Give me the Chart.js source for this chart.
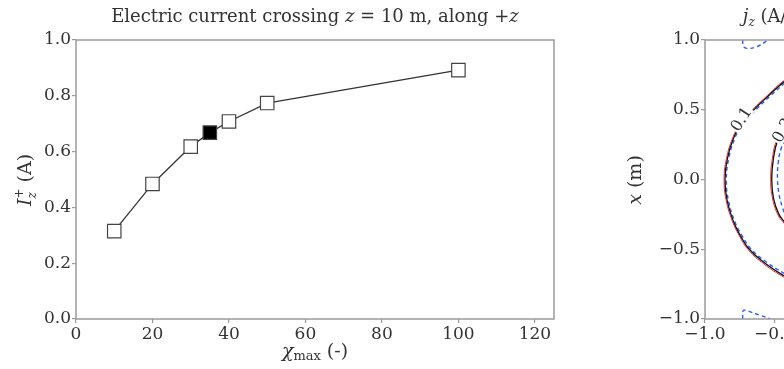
<!DOCTYPE html>
<html lang="en">
<head>
<meta charset="UTF-8">
<title>Electric current crossing z = 10 m</title>
<script src="https://cdn.jsdelivr.net/npm/chart.js"></script>
<style>
  html, body { margin: 0; padding: 0; background: #fff; overflow: hidden; width: 784px; height: 369px; }
  canvas { position: absolute; top: 0; }
  #currentChart { left: 0; }
  #jzChart { left: 600px; }
</style>
</head>
<body>
<canvas id="currentChart" width="600" height="369"></canvas>
<canvas id="jzChart" width="430" height="369"></canvas>
<script>
// current through the plane z = 10 m vs chi_max
const chiMax = [10, 20, 30, 35, 40, 50, 100];
const currentIz = [0.315, 0.484, 0.618, 0.668, 0.708, 0.774, 0.892];
const highlightChi = 35;
const chiTicks = [0, 20, 40, 60, 80, 100, 120];
const currentTicks = [0, 0.2, 0.4, 0.6, 0.8, 1.0];

// j_z contour lines in the (y, x) plane, as [y, x] pairs
const outerLevel = [[-0.30, 0.79], [-0.434, 0.70], [-0.545, 0.60], [-0.65, 0.50], [-0.74, 0.40], [-0.795, 0.30],
  [-0.84, 0.15], [-0.857, 0.0], [-0.842, -0.15], [-0.797, -0.30], [-0.748, -0.40], [-0.683, -0.50],
  [-0.57, -0.60], [-0.434, -0.69], [-0.30, -0.76]];
const outerLevelRef = [[-0.30, 0.80], [-0.437, 0.707], [-0.55, 0.605], [-0.656, 0.503], [-0.746, 0.402], [-0.801, 0.30],
  [-0.846, 0.15], [-0.863, 0.0], [-0.848, -0.15], [-0.803, -0.30], [-0.754, -0.403], [-0.689, -0.505],
  [-0.576, -0.607], [-0.437, -0.698], [-0.30, -0.77]];
const outerLevelAlt = [[-0.30, 0.775], [-0.43, 0.688], [-0.53, 0.60], [-0.635, 0.50], [-0.727, 0.40], [-0.784, 0.30],
  [-0.83, 0.15], [-0.847, 0.0], [-0.832, -0.15], [-0.787, -0.30], [-0.736, -0.40], [-0.668, -0.50],
  [-0.555, -0.595], [-0.43, -0.675], [-0.30, -0.745]];
const innerLevel = [[-0.38, 0.43], [-0.434, 0.36], [-0.48, 0.28], [-0.51, 0.15], [-0.522, 0.0], [-0.508, -0.14],
  [-0.47, -0.25], [-0.434, -0.30], [-0.38, -0.36]];
const innerLevelRef = [[-0.385, 0.435], [-0.44, 0.365], [-0.487, 0.283], [-0.517, 0.15], [-0.529, 0.0], [-0.515, -0.14],
  [-0.477, -0.254], [-0.44, -0.305], [-0.385, -0.365]];
const innerLevelAlt = [[-0.38, 0.37], [-0.42, 0.30], [-0.455, 0.22], [-0.475, 0.12], [-0.48, 0.0], [-0.47, -0.10],
  [-0.445, -0.20], [-0.42, -0.26], [-0.38, -0.31]];
const cornerTop = [[-0.73, 1.0], [-0.725, 0.955], [-0.70, 0.94], [-0.63, 0.952], [-0.546, 1.0]];
const cornerBottom = [[-0.73, -1.0], [-0.725, -0.94], [-0.69, -0.945], [-0.60, -0.975], [-0.53, -1.0]];
const jzTicks = [-1.0, -0.5, 0.0, 0.5, 1.0];
const contourLabels = [['0.1', -0.735, 0.43, -57], ['0.3', -0.44, 0.35, -62]];

const SERIF = '"DejaVu Serif", "Liberation Serif", serif';
const TEXT = '#333';
const SPINE = '#9a9a9a';

// draw a run of text pieces with mixed fonts, centred on (x, y)
// piece = [text, font, dy, noAdvance]
function drawRich(ctx, pieces, x, y, angle) {
  ctx.save();
  ctx.translate(x, y);
  if (angle) ctx.rotate(angle);
  let w = 0;
  pieces.forEach(p => { ctx.font = p[1]; if (!p[3]) w += ctx.measureText(p[0]).width; });
  let cx = -w / 2;
  ctx.fillStyle = TEXT;
  ctx.textAlign = 'left';
  ctx.textBaseline = 'alphabetic';
  pieces.forEach(p => {
    ctx.font = p[1];
    ctx.fillText(p[0], cx, 6 + (p[2] || 0));
    if (!p[3]) cx += ctx.measureText(p[0]).width;
  });
  ctx.restore();
}

function framePlugin(extra) {
  return {
    id: 'frame',
    afterDraw(chart) {
      const { ctx, chartArea: a } = chart;
      ctx.save();
      ctx.strokeStyle = SPINE;
      ctx.lineWidth = 1.5;
      ctx.strokeRect(a.left, a.top, a.right - a.left, a.bottom - a.top);
      ctx.restore();
      extra(chart);
    }
  };
}

function axisOpts(min, max, values, fmt, size) {
  return {
    type: 'linear',
    min: min,
    max: max,
    afterBuildTicks: s => { s.ticks = values.map(v => ({ value: v })); },
    grid: { drawOnChartArea: false, tickLength: 4, color: SPINE, lineWidth: 1.2 },
    border: { display: false },
    ticks: {
      autoSkip: false, maxRotation: 0, color: TEXT, padding: 1,
      font: { family: SERIF, size: 17 },
      callback: fmt
    },
    afterFit: size
  };
}

const noChrome = {
  responsive: false,
  animation: false,
  devicePixelRatio: 1,
  plugins: { legend: { display: false }, tooltip: { enabled: false } }
};

// left panel: I_z+ vs chi_max
new Chart(document.getElementById('currentChart'), {
  type: 'scatter',
  data: {
    datasets: [{
      data: chiMax.map((x, i) => ({ x: x, y: currentIz[i] })),
      showLine: true,
      borderColor: '#333',
      borderWidth: 1.3,
      pointStyle: 'rect',
      pointRadius: 9.5,
      pointBorderWidth: 1.2,
      pointBorderColor: '#444',
      pointBackgroundColor: chiMax.map(x => x === highlightChi ? '#000' : '#fff')
    }]
  },
  options: {
    ...noChrome,
    layout: { padding: { left: 0, right: 46, top: 40, bottom: 0 } },
    scales: {
      x: axisOpts(0, 125, chiTicks, v => String(v), s => { s.height = 50; }),
      y: axisOpts(0, 1, currentTicks, v => v.toFixed(1), s => { s.width = 76; })
    }
  },
  plugins: [framePlugin(chart => {
    const ctx = chart.ctx;
    const a = chart.chartArea;
    const mid = (a.left + a.right) / 2;
    const it = 'italic 18px ' + SERIF, rm = '18px ' + SERIF;
    drawRich(ctx, [['Electric current crossing ', rm], ['z', it], [' = 10 m, along +', rm], ['z', it]], mid, 16);
    drawRich(ctx, [['\u03c7', 'italic 19px ' + SERIF], ['max', '13px ' + SERIF, 3], [' (-)', '19px ' + SERIF]], mid, 351);
    drawRich(ctx, [['I', 'italic 19px ' + SERIF], ['z', 'italic 12px ' + SERIF, 5, true], ['+', '12px ' + SERIF, -8], [' (A)', '19px ' + SERIF]], 25, 180, -Math.PI / 2);
  })]
});

// right panel: j_z contours
function contour(points, color, width, dash) {
  return {
    data: points.map(p => ({ x: p[0], y: p[1] })),
    showLine: true,
    tension: 0.45,
    borderColor: color,
    borderWidth: width,
    borderDash: dash || [],
    pointRadius: 0,
    fill: false
  };
}

const signed = v => (v < 0 ? '\u2212' : '') + Math.abs(v).toFixed(1);

new Chart(document.getElementById('jzChart'), {
  type: 'scatter',
  data: {
    datasets: [
      contour(outerLevelRef, '#e03030', 1),
      contour(outerLevel, '#111', 1.4),
      contour(outerLevelAlt, '#2a5cff', 1.4, [4, 3]),
      contour(innerLevelRef, '#e03030', 1),
      contour(innerLevel, '#111', 1.4),
      contour(innerLevelAlt, '#2a5cff', 1.4, [4, 3]),
      contour(cornerTop, '#2a5cff', 1.4, [4, 3]),
      contour(cornerBottom, '#2a5cff', 1.4, [4, 3])
    ]
  },
  options: {
    ...noChrome,
    layout: { padding: { left: 0, right: 46, top: 40, bottom: 0 } },
    scales: {
      x: axisOpts(-1, 1, jzTicks, signed, s => { s.height = 50; }),
      y: axisOpts(-1, 1, jzTicks, signed, s => { s.width = 105; })
    }
  },
  plugins: [framePlugin(chart => {
    const ctx = chart.ctx;
    const a = chart.chartArea;
    const xs = chart.scales.x, ys = chart.scales.y;
    contourLabels.forEach(l => {
      const px = xs.getPixelForValue(l[1]), py = ys.getPixelForValue(l[2]);
      ctx.save();
      ctx.translate(px, py);
      ctx.rotate(l[3] * Math.PI / 180);
      ctx.font = '16px ' + SERIF;
      const w = ctx.measureText(l[0]).width;
      ctx.fillStyle = '#fff';
      ctx.fillRect(-w / 2 - 1, -6, w + 2, 12);
      ctx.fillStyle = TEXT;
      ctx.textAlign = 'center';
      ctx.textBaseline = 'middle';
      ctx.fillText(l[0], 0, 0);
      ctx.restore();
    });
    const mid = (a.left + a.right) / 2;
    const it = 'italic 18px ' + SERIF, rm = '18px ' + SERIF;
    drawRich(ctx, [['j', it], ['z', 'italic 12px ' + SERIF, 4], [' (A/m\u00b2) at ', rm], ['z', it], [' = 10.0 m', rm]], mid, 16);
    drawRich(ctx, [['x', 'italic 19px ' + SERIF], [' (m)', '19px ' + SERIF]], 35, 180, -Math.PI / 2);
  })]
});
</script>
</body>
</html>
